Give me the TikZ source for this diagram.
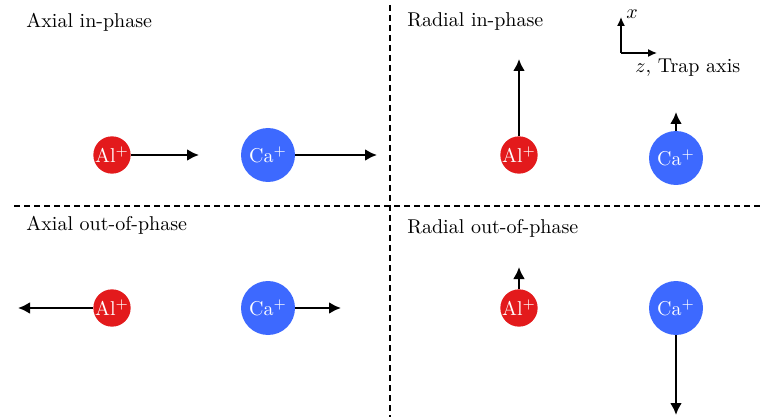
\documentclass[tikz,border=0pt]{standalone}
\usetikzlibrary{arrows.meta}
\definecolor{alred}{RGB}{227,26,28}
\definecolor{cablue}{RGB}{61,105,255}
\tikzset{
  ion/.style={circle, inner sep=0pt, text=white, font=\normalsize},
  alion/.style={ion, fill=alred, minimum size=18pt},
  caion/.style={ion, fill=cablue, minimum size=27pt},
  motion/.style={-{Latex[length=6pt,width=6pt]}, line width=1.2pt},
  frame/.style={-{Latex[length=4.5pt,width=4pt]}, line width=0.7pt},
  divider/.style={line width=1.1pt, dash pattern=on 3pt off 2pt},
  caption/.style={anchor=west, inner sep=0pt},
}
\begin{document}
\begin{tikzpicture}[x=0.5pt,y=-0.5pt]
  \useasboundingbox (0,0) rectangle (761,417);

  % quadrant dividers
  \draw[divider] (390,5) -- (390,417);
  \draw[divider] (14,206) -- (761,206);

  % quadrant titles
  \node[caption] (t1) at (26,22) {Axial in-phase};
  \node[caption] (t2) at (407,22) {Radial in-phase};
  \node[caption] (t3) at (26,225) {Axial out-of-phase};
  \node[caption] (t4) at (407,228) {Radial out-of-phase};

  % coordinate frame
  \coordinate (o) at (621,53);
  \coordinate (ox) at (621,17);
  \coordinate (oz) at (657,53);
  \draw[frame] (o) -- (ox);
  \draw[frame] (o) -- (oz);
  \node[anchor=west, inner sep=1pt] (xl) at (624,14) {$x$};
  \node[anchor=west, inner sep=0pt] (zl) at (635,68) {$z$, Trap axis};

  % axial in-phase
  \node[alion] (a1) at (112,155) {Al$^+$};
  \node[caion] (c1) at (268,155) {Ca$^+$};
  \coordinate (a1e) at (199,155);
  \coordinate (c1e) at (377,155);
  \draw[motion] (a1.east) -- (a1e);
  \draw[motion] (c1.east) -- (c1e);

  % radial in-phase
  \node[alion] (a2) at (519,155) {Al$^+$};
  \node[caion] (c2) at (676,158) {Ca$^+$};
  \coordinate (a2e) at (519,59);
  \coordinate (c2e) at (676,112);
  \draw[motion] (a2.north) -- (a2e);
  \draw[motion] (c2.north) -- (c2e);

  % axial out-of-phase
  \node[alion] (a3) at (112,308) {Al$^+$};
  \node[caion] (c3) at (268,308) {Ca$^+$};
  \coordinate (a3e) at (18,308);
  \coordinate (c3e) at (341,308);
  \draw[motion] (a3.west) -- (a3e);
  \draw[motion] (c3.east) -- (c3e);

  % radial out-of-phase
  \node[alion] (a4) at (519,308) {Al$^+$};
  \node[caion] (c4) at (676,308) {Ca$^+$};
  \coordinate (a4e) at (519,267);
  \coordinate (c4e) at (676,415);
  \draw[motion] (a4.north) -- (a4e);
  \draw[motion] (c4.south) -- (c4e);
\end{tikzpicture}
\end{document}
